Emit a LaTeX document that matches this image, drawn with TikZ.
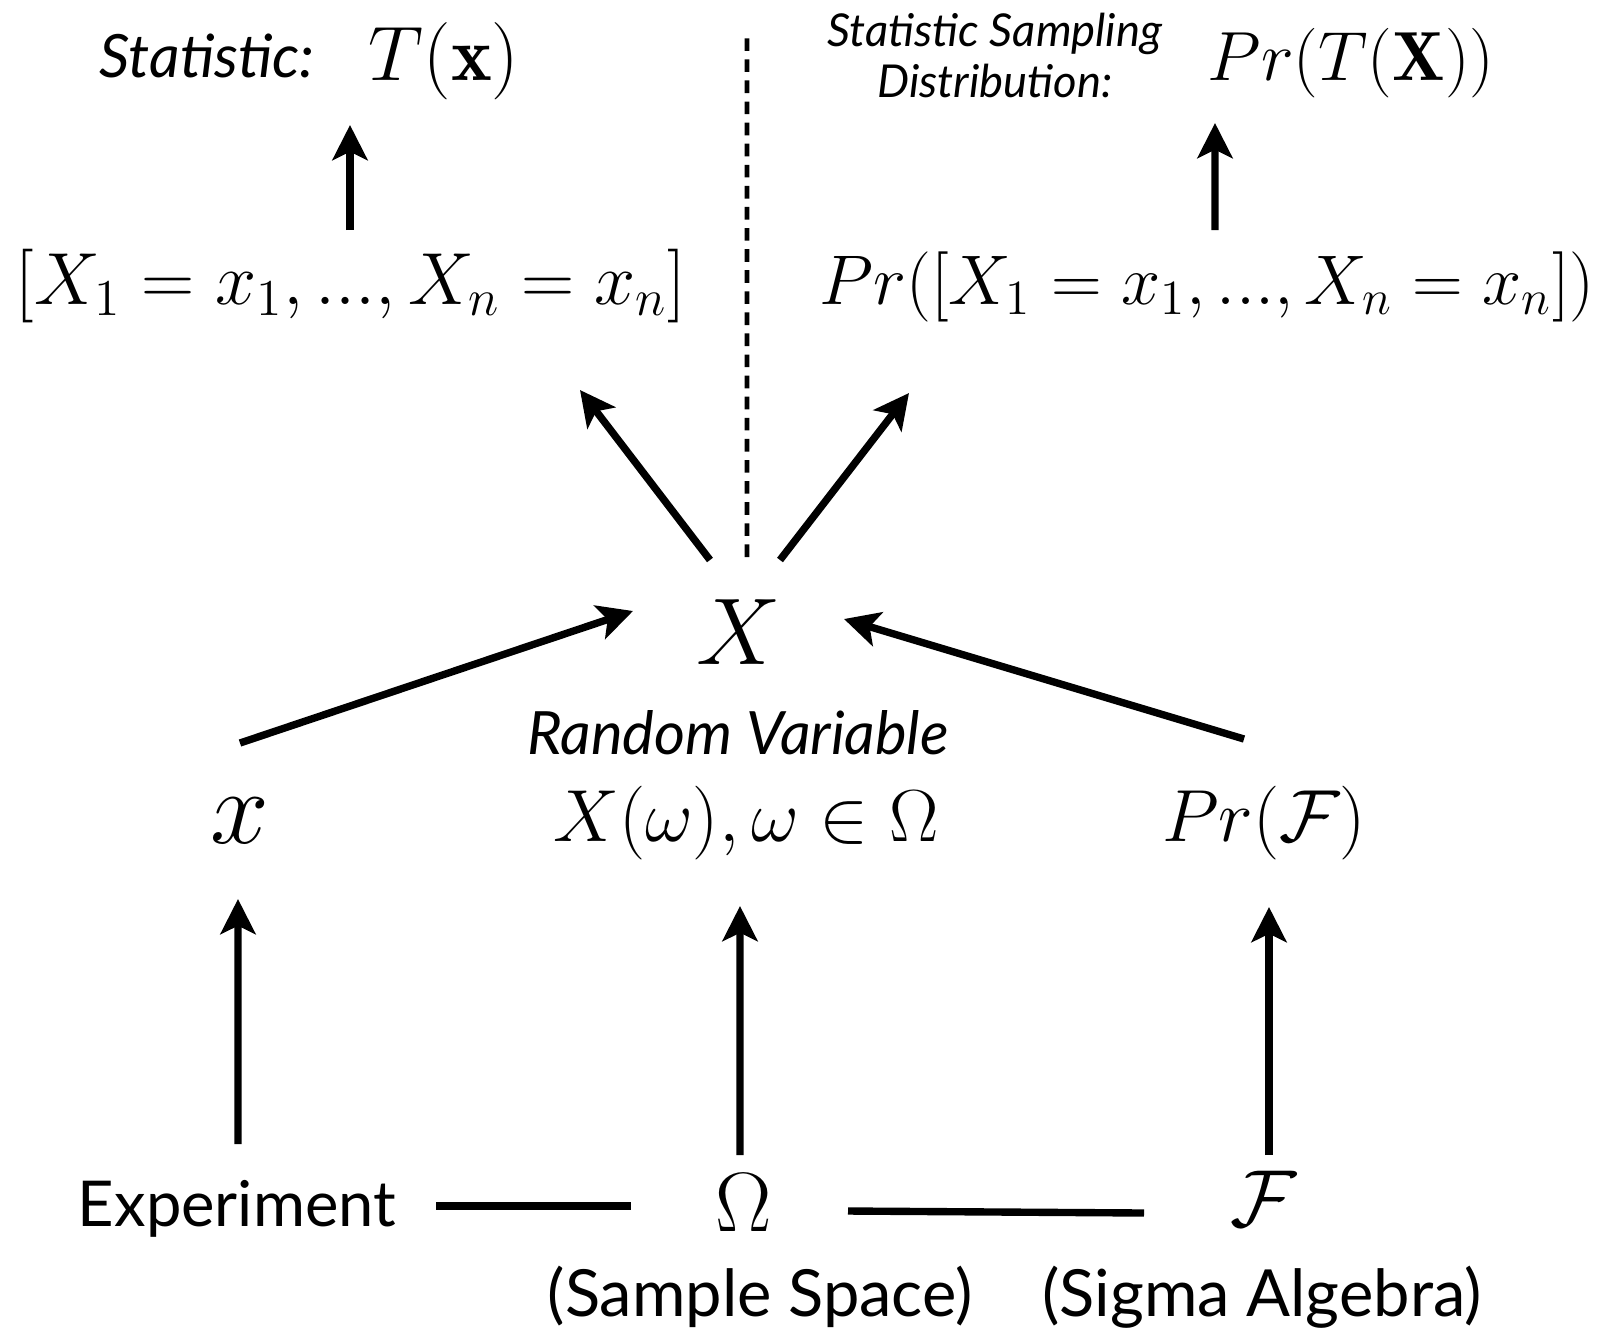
\documentclass[tikz,border=0pt]{standalone}
\usepackage{fix-cm}
\usepackage{fontspec}
\newfontfamily\gill{Lato}
\usetikzlibrary{arrows.meta}
\begin{document}
\begin{tikzpicture}[
  arr/.style={line width=2.1pt, -{Stealth[length=10pt,width=10pt,inset=2.4pt]}},
  conn/.style={line width=2.1pt},
  dots/.style={line width=1.4pt, dash pattern=on 3.6pt off 2.4pt},
  lbl/.style={anchor=base, inner sep=0pt, font=\gill\fontsize{18}{21}\selectfont},
  ilbl/.style={anchor=base, inner sep=0pt, font=\gill\itshape\fontsize{17}{20}\selectfont},
  slbl/.style={anchor=base, inner sep=0pt, font=\gill\itshape\fontsize{12.9}{15}\selectfont},
  mth/.style={anchor=base, inner sep=0pt, font=\fontsize{21}{25}\selectfont},
  big/.style={anchor=base, inner sep=0pt, font=\fontsize{27}{32}\selectfont},
]
\useasboundingbox (0,0) rectangle (16.02,-13.30);

% top row
\node[ilbl] (stat) at (2.07,-0.77) {Statistic:};
\node[mth,font=\fontsize{22}{26}\selectfont] (Tx) at (4.44,-0.80) {$T(\mathbf{x})$};
\node[slbl] (ss1) at (9.95,-0.46) {Statistic Sampling};
\node[slbl] (ss2) at (9.95,-0.97) {Distribution:};
\node[mth,font=\fontsize{19.8}{24}\selectfont] (PrT) at (13.51,-0.80) {$Pr(T(\mathbf{X}))$};

% second row
\node[mth] (brk) at (3.51,-3.04) {$[X_1 = x_1, ..., X_n = x_n]$};
\node[mth,font=\fontsize{20}{24}\selectfont] (prb) at (12.07,-3.04) {$Pr([X_1 = x_1, ..., X_n = x_n])$};

% centre
\node[big] (X) at (7.39,-6.64) {$X$};
\node[ilbl] (rv) at (7.38,-7.54) {Random Variable};

% third row
\node[big,font=\fontsize{30}{34}\selectfont] (x) at (2.40,-8.43) {$x$};
\node[mth] (Xw) at (7.46,-8.41) {$X(\omega), \omega \in \Omega$};
\node[mth] (PrF) at (12.64,-8.41) {$Pr(\mathcal{F})$};

% bottom row
\node[lbl] (exp) at (2.37,-12.26) {Experiment};
\node[mth,font=\fontsize{24}{28}\selectfont] (Om) at (7.44,-12.31) {$\Omega$};
\node[mth,font=\fontsize{23}{27}\selectfont] (F) at (12.64,-12.26) {$\mathcal{F}$};
\node[lbl,font=\gill\fontsize{18.5}{22}\selectfont] (ssp) at (7.60,-13.16) {(Sample Space)};
\node[lbl,font=\gill\fontsize{18.5}{22}\selectfont] (sig) at (12.62,-13.16) {(Sigma Algebra)};

% dotted separator
\coordinate (dtop) at (7.47,-0.36);
\draw[dots] ([shift={(0.08,1.07)}]X.base) -- (dtop);

% arrows
\draw[arr] ([shift={(-0.01,0.74)}]brk.base) -- ([shift={(-0.94,-0.45)}]Tx.base);
\draw[arr] ([shift={(0.08,0.74)}]prb.base) -- ([shift={(-1.36,-0.43)}]PrT.base);
\draw[arr] ([shift={(-0.29,1.04)}]X.base) -- ([shift={(2.29,-0.86)}]brk.base);
\draw[arr] ([shift={(0.41,1.04)}]X.base) -- ([shift={(-2.98,-0.89)}]prb.base);
\draw[arr] ([shift={(0,1.00)}]x.base) -- ([shift={(-1.06,0.53)}]X.base);
\draw[arr] ([shift={(-0.20,1.02)}]PrF.base) -- ([shift={(1.05,0.45)}]X.base);
\draw[arr] ([shift={(0.01,0.82)}]exp.base) -- ([shift={(-0.02,-0.56)}]x.base);
\draw[arr] ([shift={(-0.04,0.76)}]Om.base) -- ([shift={(-0.06,-0.65)}]Xw.base);
\draw[arr] ([shift={(0.05,0.71)}]F.base) -- ([shift={(0.05,-0.66)}]PrF.base);

% plain connectors
\draw[conn] ([shift={(1.99,0.20)}]exp.base) -- ([shift={(-1.13,0.25)}]Om.base);
\draw[conn] ([shift={(1.04,0.20)}]Om.base) -- ([shift={(-1.20,0.13)}]F.base);
\end{tikzpicture}
\end{document}
